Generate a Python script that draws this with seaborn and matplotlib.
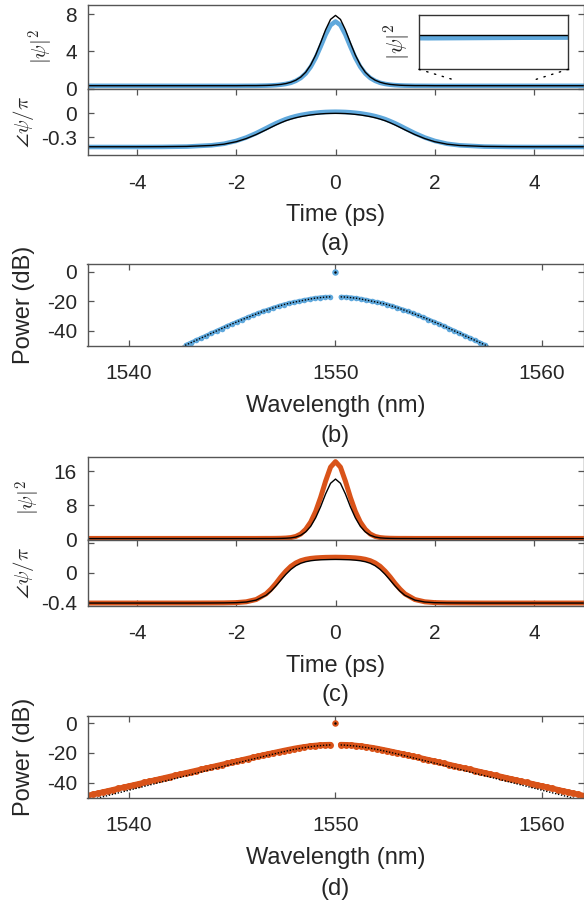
import numpy as np
import pandas as pd
import matplotlib
matplotlib.use("Agg")
import matplotlib.pyplot as plt
import seaborn as sns
from matplotlib.patches import ConnectionPatch

# ------------------------------------------------------------------ data
t_ps = [-5, -4.5, -4, -3.5, -3, -2.5, -2.25, -2, -1.8, -1.6, -1.4, -1.3, -1.2, -1.1, -1.0,
        -0.9, -0.8, -0.7, -0.6, -0.5, -0.4, -0.3, -0.2, -0.1, 0,
        0.1, 0.2, 0.3, 0.4, 0.5, 0.6, 0.7, 0.8, 0.9, 1.0, 1.1, 1.2, 1.3, 1.4, 1.6,
        1.8, 2.0, 2.25, 2.5, 3.0, 3.5, 4.0, 4.5, 5]

# (a) intensity |psi|^2 : black = reference, blue = simulation
a_int_black = [0.30, 0.30, 0.30, 0.30, 0.30, 0.30, 0.30, 0.30, 0.31, 0.31, 0.33, 0.35, 0.39, 0.44, 0.53,
               0.67, 0.89, 1.23, 1.75, 2.53, 3.59, 4.91, 6.30, 7.42, 7.85,
               7.42, 6.30, 4.91, 3.59, 2.53, 1.75, 1.23, 0.89, 0.67, 0.53, 0.44, 0.39, 0.35, 0.33, 0.31,
               0.31, 0.30, 0.30, 0.30, 0.30, 0.30, 0.30, 0.30, 0.30]
a_int_blue = [0.285, 0.285, 0.284, 0.283, 0.281, 0.279, 0.280, 0.280, 0.285, 0.290, 0.31, 0.33, 0.36, 0.41, 0.49,
              0.61, 0.82, 1.13, 1.61, 2.32, 3.29, 4.50, 5.78, 6.80, 7.20,
              6.80, 5.78, 4.50, 3.29, 2.32, 1.61, 1.13, 0.82, 0.61, 0.49, 0.41, 0.36, 0.33, 0.31, 0.290,
              0.285, 0.280, 0.280, 0.279, 0.281, 0.283, 0.284, 0.285, 0.285]
# (a) phase / pi
a_ph_black = [-0.417, -0.417, -0.417, -0.416, -0.413, -0.401, -0.385, -0.354, -0.315, -0.265, -0.206, -0.175,
              -0.145, -0.117, -0.092, -0.072, -0.055, -0.041, -0.030, -0.020, -0.013, -0.007, -0.003, -0.001, 0.000,
              -0.001, -0.003, -0.007, -0.013, -0.020, -0.030, -0.041, -0.055, -0.072, -0.092, -0.117, -0.145,
              -0.175, -0.206, -0.265, -0.315, -0.354, -0.385, -0.401, -0.413, -0.416, -0.417, -0.417, -0.417]
a_ph_blue = [-0.420, -0.420, -0.420, -0.419, -0.415, -0.399, -0.380, -0.344, -0.302, -0.248, -0.186, -0.154,
             -0.124, -0.097, -0.072, -0.052, -0.035, -0.021, -0.010, 0.000, 0.007, 0.013, 0.017, 0.019, 0.020,
             0.019, 0.017, 0.013, 0.007, 0.000, -0.010, -0.021, -0.035, -0.052, -0.072, -0.097, -0.124,
             -0.154, -0.186, -0.248, -0.302, -0.344, -0.380, -0.399, -0.415, -0.419, -0.420, -0.420, -0.420]

# (c) intensity |psi|^2 : black = reference, orange = simulation
c_int_black = [0.22, 0.22, 0.22, 0.22, 0.22, 0.22, 0.22, 0.22, 0.22, 0.22, 0.23, 0.23, 0.24, 0.26, 0.30,
               0.38, 0.58, 1.00, 1.80, 3.10, 5.10, 7.70, 10.70, 13.20, 14.20,
               13.20, 10.70, 7.70, 5.10, 3.10, 1.80, 1.00, 0.58, 0.38, 0.30, 0.26, 0.24, 0.23, 0.23, 0.22,
               0.22, 0.22, 0.22, 0.22, 0.22, 0.22, 0.22, 0.22, 0.22]
c_int_orange = [0.25, 0.25, 0.25, 0.25, 0.25, 0.25, 0.25, 0.25, 0.25, 0.25, 0.26, 0.26, 0.27, 0.29, 0.34,
                0.45, 0.72, 1.30, 2.40, 4.10, 6.60, 9.90, 13.70, 17.00, 18.30,
                17.00, 13.70, 9.90, 6.60, 4.10, 2.40, 1.30, 0.72, 0.45, 0.34, 0.29, 0.27, 0.26, 0.26, 0.25,
                0.25, 0.25, 0.25, 0.25, 0.25, 0.25, 0.25, 0.25, 0.25]
# (c) phase / pi
c_ph_black = [-0.414, -0.414, -0.414, -0.414, -0.414, -0.413, -0.412, -0.409, -0.400, -0.374, -0.309, -0.253,
              -0.181, -0.101, -0.023, 0.043, 0.093, 0.127, 0.148, 0.161, 0.169, 0.174, 0.176, 0.178, 0.179,
              0.178, 0.176, 0.174, 0.169, 0.161, 0.148, 0.127, 0.093, 0.043, -0.023, -0.101, -0.181,
              -0.253, -0.309, -0.374, -0.400, -0.409, -0.412, -0.413, -0.414, -0.414, -0.414, -0.414, -0.414]
c_ph_orange = [-0.414, -0.414, -0.414, -0.414, -0.414, -0.413, -0.412, -0.408, -0.397, -0.366, -0.289, -0.224,
               -0.146, -0.058, 0.020, 0.085, 0.131, 0.162, 0.181, 0.193, 0.200, 0.204, 0.207, 0.208, 0.209,
               0.208, 0.207, 0.204, 0.200, 0.193, 0.181, 0.162, 0.131, 0.085, 0.020, -0.058, -0.146,
               -0.224, -0.289, -0.366, -0.397, -0.408, -0.412, -0.413, -0.414, -0.414, -0.414, -0.414, -0.414]

# spectra: comb lines either side of the pump (offset from centre in nm)
center_nm = 1550.0
pump_power_b = [0.0]
pump_power_d = [0.0]
comb_offset_b = [0.25, 0.5, 0.75, 1.0, 1.25, 1.5, 1.75, 2.0, 2.25, 2.5, 2.75, 3.0, 3.25, 3.5, 3.75,
                 4.0, 4.25, 4.5, 4.75, 5.0, 5.25, 5.5, 5.75, 6.0, 6.25, 6.5, 6.75, 7.0, 7.25]
b_power_short = [-17.0, -17.15, -17.45, -17.9, -18.5, -19.2, -19.95, -20.6, -21.35, -22.2, -23.3, -24.4,
                 -25.6, -26.8, -28.1, -29.5, -30.9, -32.3, -33.8, -35.3, -36.8, -38.4, -40.0, -41.6,
                 -43.2, -44.8, -46.4, -48.0, -49.6]
b_power_long = [-17.0, -17.15, -17.45, -17.9, -18.5, -19.2, -19.95, -20.6, -21.35, -22.2, -23.3, -24.4,
                -25.6, -26.8, -28.1, -29.5, -30.9, -32.3, -33.8, -35.3, -36.8, -38.4, -40.0, -41.6,
                -43.2, -44.8, -46.4, -48.0, -49.6]
env_offset_b = [0.25, 0.5, 1, 1.5, 2, 2.5, 3, 3.5, 4, 4.5, 5, 5.5, 6, 6.5, 7, 7.5]
b_envelope = [-17.0, -17.15, -17.9, -19.2, -20.6, -22.2, -24.4, -26.8, -29.5, -32.3, -35.3, -38.4,
              -41.6, -44.8, -48.0, -51.2]

comb_offset_d = [0.25, 0.5, 0.75, 1.0, 1.25, 1.5, 1.75, 2.0, 2.25, 2.5, 2.75, 3.0, 3.25, 3.5, 3.75,
                 4.0, 4.25, 4.5, 4.75, 5.0, 5.25, 5.5, 5.75, 6.0, 6.25, 6.5, 6.75, 7.0, 7.25, 7.5,
                 7.75, 8.0, 8.25, 8.5, 8.75, 9.0, 9.25, 9.5, 9.75, 10.0, 10.25, 10.5, 10.75, 11.0,
                 11.25, 11.5, 11.75, 12.0, 12.25]
d_power_short = [-14.40, -14.50, -14.70, -15.00, -15.40, -15.90, -16.40, -17.00, -17.70, -18.40, -19.15,
                 -19.90, -20.65, -21.40, -22.20, -23.00, -23.80, -24.60, -25.40, -26.20, -27.00, -27.80,
                 -28.60, -29.40, -30.20, -31.00, -31.80, -32.60, -33.40, -34.20, -35.00, -35.80, -36.60,
                 -37.40, -38.20, -39.00, -39.80, -40.60, -41.40, -42.20, -43.00, -43.80, -44.60, -45.40,
                 -46.20, -47.00, -47.80, -48.60, -49.40]
d_power_long = [-14.40, -14.50, -14.70, -15.00, -15.40, -15.90, -16.40, -17.00, -17.70, -18.40, -19.15,
                -19.90, -20.65, -21.40, -22.20, -23.00, -23.80, -24.60, -25.40, -26.20, -27.00, -27.80,
                -28.60, -29.40, -30.20, -31.00, -31.80, -32.60, -33.40, -34.20, -35.00, -35.80, -36.60,
                -37.40, -38.20, -39.00, -39.80, -40.60, -41.40, -42.20, -43.00, -43.80, -44.60, -45.40,
                -46.20, -47.00, -47.80, -48.60, -49.40]
env_offset_d = [0.25, 0.5, 1, 1.5, 2, 2.5, 3, 3.5, 4, 5, 6, 7, 8, 9, 10, 11, 12, 12.5]
d_envelope = [-14.6, -14.8, -15.4, -16.4, -17.6, -19.1, -20.7, -22.4, -24.1, -27.5, -31.0, -34.5,
              -38.0, -41.5, -45.0, -48.5, -52.0, -53.8]

# inset (zoom of the CW background in (a))
inset_t_range = [2.4, 4.0]
inset_int_range = [0.04, 0.46]
inset_link_level = 0.91

time_ticks = [-4, -2, 0, 2, 4]
wl_ticks = [1540, 1550, 1560]
db_ticks = [-40, -20, 0]

# ------------------------------------------------------------------ style
sns.set_style("ticks")
plt.rcParams["font.family"] = ["Liberation Sans", "DejaVu Sans"]
plt.rcParams["mathtext.fontset"] = "cm"
plt.rcParams["axes.unicode_minus"] = False

BLUE = "#5FA8DC"
ORANGE = "#D95319"
TXT = "#262626"
SPINE = "#555555"

W, H = 584, 907
AX_L, AX_R = 87.5, 583.5
AX_W = AX_R - AX_L
fig = plt.figure(figsize=(W / 100, H / 100), dpi=100)
fig.patch.set_facecolor("white")


def px_axes(top, bottom, left=AX_L, right=AX_R):
    return fig.add_axes([left / W, 1 - bottom / H, (right - left) / W, (bottom - top) / H])


def style(ax, top=True, bottom=True):
    ax.set_facecolor("white")
    for s in ax.spines.values():
        s.set_visible(True)
        s.set_color(SPINE)
        s.set_linewidth(1.0)
    ax.tick_params(axis="both", direction="in", length=4.5, width=0.9, color=SPINE,
                   labelcolor=TXT, labelsize=15, left=True, right=True, top=top, bottom=bottom)
    ax.tick_params(axis="y", pad=7.5)
    ax.tick_params(axis="x", pad=13.5)


def ylab(ax, text, x_px, size=15, x0=AX_L, w=AX_W, y=0.5):
    ax.set_ylabel(text, fontsize=size, color=TXT)
    ax.yaxis.set_label_coords((x_px - x0) / w, y)
    ax.yaxis.label.set_va("center")


def xlab(ax, text, h_px, off_px=60.5):
    ax.set_xlabel(text, fontsize=17, color=TXT)
    ax.xaxis.set_label_coords(0.5, -off_px / h_px)
    ax.xaxis.label.set_va("center")


def panel_letter(text, y_px):
    fig.text((AX_L + AX_R) / 2 / W, 1 - y_px / H, text, ha="center", va="center",
             fontsize=17, color=TXT)


def tline(ax, y, color, lw):
    sns.lineplot(x=t_ps, y=y, ax=ax, color=color, lw=lw, sort=False, estimator=None)


def comb_frame(offsets, short_side, long_side):
    off = np.asarray(offsets)
    return pd.DataFrame({
        "wl": np.concatenate([center_nm - off, center_nm + off]),
        "p": np.concatenate([short_side, long_side]),
        "side": ["short"] * len(off) + ["long"] * len(off),
    })


def env_frame(offsets, env):
    off = np.asarray(offsets)
    return pd.DataFrame({
        "wl": np.concatenate([center_nm - off, center_nm + off]),
        "p": np.concatenate([env, env]),
        "side": ["short"] * len(off) + ["long"] * len(off),
    })


def spectrum(ax, comb, env, pump, color, lw, ms):
    sns.lineplot(data=comb, x="wl", y="p", units="side", estimator=None, ax=ax, color=color,
                 lw=lw, marker="o", markersize=ms, markeredgewidth=0, sort=False, legend=False)
    sns.lineplot(data=env, x="wl", y="p", units="side", estimator=None, ax=ax, color="black",
                 lw=1.0, linestyle=(0, (1, 1.2)), sort=False, legend=False)
    sns.scatterplot(x=[center_nm], y=pump, ax=ax, color=color, s=22, linewidth=0, zorder=4)
    sns.scatterplot(x=[center_nm], y=pump, ax=ax, color="black", s=3, linewidth=0, zorder=5)
    ax.set_xlim(1538, 1562)
    ax.set_ylim(-50, 5)
    ax.set_xticks(wl_ticks)
    ax.set_yticks(db_ticks)
    ax.set_yticklabels([str(v) for v in db_ticks])


# ------------------------------------------------------------------ (a)
a1 = px_axes(4.7, 88.5)
a2 = px_axes(88.5, 155.0)
tline(a1, a_int_blue, BLUE, 3.3)
tline(a1, a_int_black, "black", 1.0)
a1.set_xlim(-5, 5)
a1.set_ylim(0, 9)
a1.set_yticks([0, 4, 8])
a1.set_xticks([])
style(a1, top=False, bottom=False)
ylab(a1, r"$|\psi|^2$", 41.7)
a1.set_xlabel("")

tline(a2, a_ph_blue, BLUE, 3.3)
tline(a2, a_ph_black, "black", 1.0)
a2.set_xlim(-5, 5)
a2.set_ylim(-0.52, 0.31)
a2.set_yticks([-0.3, 0, 0.3])
a2.set_yticklabels(["-0.3", "0", ""])
a2.set_xticks(time_ticks)
a2.set_xticklabels([str(v) for v in time_ticks])
style(a2)
ylab(a2, r"$\angle\psi/\pi$", 23.3)
xlab(a2, "Time (ps)", 66.5)
panel_letter("(a)", 244.0)

# inset
ins = px_axes(14.7, 69.3, left=419.0, right=568.3)
tline(ins, a_int_blue, BLUE, 3.3)
tline(ins, a_int_black, "black", 1.0)
ins.set_xlim(*inset_t_range)
ins.set_ylim(*inset_int_range)
ins.set_xticks([])
ins.set_yticks([])
ins.set_xlabel("")
for s in ins.spines.values():
    s.set_visible(True)
    s.set_color("#333333")
    s.set_linewidth(1.0)
ylab(ins, r"$|\psi|^2$", 397.5, size=16, x0=419.0, w=149.3)
for corner, t_link in zip([(0, 0), (1, 0)], inset_t_range):
    con = ConnectionPatch(xyA=corner, coordsA=ins.transAxes, xyB=(t_link, inset_link_level),
                          coordsB=a1.transData, color="black", lw=1.0,
                          linestyle=(0, (1, 4.8)), capstyle="round")
    fig.add_artist(con)

# ------------------------------------------------------------------ (b)
b = px_axes(264.3, 345.7)
spectrum(b, comb_frame(comb_offset_b, b_power_short, b_power_long),
         env_frame(env_offset_b, b_envelope), pump_power_b, BLUE, 3.0, 4.0)
style(b)
ylab(b, "Power (dB)", 24.0, size=17)
xlab(b, "Wavelength (nm)", 81.4)
panel_letter("(b)", 436.5)

# ------------------------------------------------------------------ (c)
c1 = px_axes(456.5, 539.5)
c2 = px_axes(539.5, 605.7)
tline(c1, c_int_orange, ORANGE, 3.6)
tline(c1, c_int_black, "black", 1.0)
c1.set_xlim(-5, 5)
c1.set_ylim(0, 19.5)
c1.set_yticks([0, 8, 16])
c1.set_xticks([])
style(c1, top=False, bottom=False)
ylab(c1, r"$|\psi|^2$", 28.3)
c1.set_xlabel("")

tline(c2, c_ph_orange, ORANGE, 3.6)
tline(c2, c_ph_black, "black", 1.0)
c2.set_xlim(-5, 5)
c2.set_ylim(-0.45, 0.45)
c2.set_yticks([-0.4, 0, 0.4])
c2.set_yticklabels(["-0.4", "0", ""])
c2.set_xticks(time_ticks)
c2.set_xticklabels([str(v) for v in time_ticks])
style(c2)
ylab(c2, r"$\angle\psi/\pi$", 23.3)
xlab(c2, "Time (ps)", 66.2)
panel_letter("(c)", 694.5)

# ------------------------------------------------------------------ (d)
d = px_axes(715.7, 797.7)
spectrum(d, comb_frame(comb_offset_d, d_power_short, d_power_long),
         env_frame(env_offset_d, d_envelope), pump_power_d, ORANGE, 4.0, 5.0)
style(d)
ylab(d, "Power (dB)", 24.0, size=17)
xlab(d, "Wavelength (nm)", 82.0)
panel_letter("(d)", 888.5)

fig.savefig("out.png", dpi=100, facecolor="white")
